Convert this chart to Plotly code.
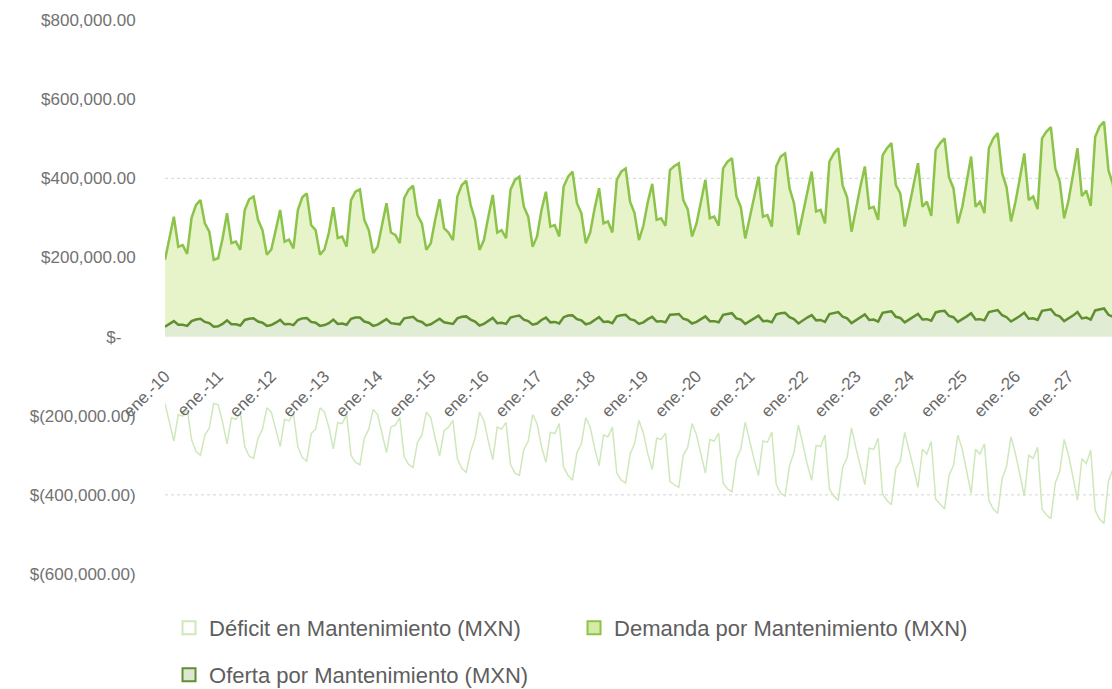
import plotly.graph_objects as go

# Serie mensual ene-2010 .. dic-2027, valores en miles de MXN
ETIQUETAS_X = ["ene.-10", "ene.-11", "ene.-12", "ene.-13", "ene.-14", "ene.-15",
               "ene.-16", "ene.-17", "ene.-18", "ene.-19", "ene.-20", "ene.-21",
               "ene.-22", "ene.-23", "ene.-24", "ene.-25", "ene.-26", "ene.-27"]

DEMANDA = [
    194, 248, 303, 227, 231, 209, 300, 333, 345, 286, 265, 194,   # 2010
    198, 248, 312, 236, 240, 219, 320, 347, 354, 295, 269, 207,   # 2011
    220, 269, 320, 240, 245, 223, 320, 352, 362, 282, 269, 207,   # 2012
    220, 263, 327, 249, 253, 227, 345, 366, 372, 295, 269, 211,   # 2013
    227, 282, 337, 263, 257, 236, 350, 371, 381, 307, 286, 219,   # 2014
    236, 295, 347, 274, 263, 244, 354, 383, 394, 333, 295, 219,   # 2015
    244, 303, 358, 263, 269, 249, 371, 396, 404, 329, 303, 227,   # 2016
    253, 320, 366, 278, 282, 253, 379, 404, 417, 337, 312, 236,   # 2017
    263, 324, 375, 286, 291, 263, 396, 417, 425, 341, 312, 244,   # 2018
    280, 340, 386, 295, 299, 280, 421, 431, 438, 345, 322, 253,   # 2019
    286, 341, 396, 299, 303, 280, 425, 442, 451, 355, 327, 248,   # 2020
    303, 358, 404, 303, 307, 278, 430, 455, 463, 375, 337, 257,   # 2021
    312, 371, 417, 316, 320, 286, 442, 463, 476, 381, 352, 265,   # 2022
    324, 379, 430, 324, 328, 295, 458, 476, 489, 383, 362, 278,   # 2023
    328, 383, 438, 328, 341, 305, 472, 489, 501, 403, 375, 286,   # 2024
    328, 392, 455, 328, 341, 312, 476, 501, 514, 413, 377, 291,   # 2025
    340, 400, 463, 345, 354, 322, 501, 518, 529, 425, 392, 299,   # 2026
    345, 409, 476, 355, 369, 330, 505, 531, 543, 420, 385, 300,   # 2027
]

OFERTA = [
    25, 32, 39, 30, 30, 27, 39, 43, 45, 37, 34, 25,
    26, 32, 41, 31, 31, 28, 42, 45, 46, 38, 35, 27,
    29, 35, 42, 31, 32, 29, 42, 46, 47, 37, 35, 27,
    29, 34, 43, 32, 33, 30, 45, 48, 48, 38, 35, 27,
    30, 37, 44, 34, 33, 31, 46, 48, 50, 40, 37, 28,
    31, 38, 45, 36, 34, 32, 46, 50, 51, 43, 38, 28,
    32, 39, 47, 34, 35, 32, 48, 51, 53, 43, 39, 30,
    33, 42, 48, 36, 37, 33, 49, 53, 54, 44, 41, 31,
    34, 42, 49, 37, 38, 34, 51, 54, 55, 44, 41, 32,
    36, 44, 50, 38, 39, 36, 55, 56, 57, 45, 42, 33,
    37, 44, 51, 39, 39, 36, 55, 57, 59, 46, 43, 32,
    39, 47, 53, 39, 40, 36, 56, 59, 60, 49, 44, 33,
    41, 48, 54, 41, 42, 37, 57, 60, 62, 50, 46, 34,
    42, 49, 56, 42, 43, 38, 60, 62, 64, 50, 47, 36,
    43, 50, 57, 43, 44, 40, 61, 64, 65, 52, 49, 37,
    43, 51, 59, 43, 44, 41, 62, 65, 67, 54, 49, 38,
    44, 52, 60, 45, 46, 42, 65, 67, 69, 55, 51, 39,
    45, 53, 62, 46, 48, 43, 66, 69, 71, 55, 50, 39,
]

DEFICIT = [
    -169, -216, -264, -197, -201, -182, -261, -290, -300, -249, -231, -169,
    -172, -216, -271, -205, -209, -191, -278, -302, -308, -257, -234, -180,
    -191, -234, -278, -209, -213, -194, -278, -306, -315, -245, -234, -180,
    -191, -229, -284, -217, -220, -197, -300, -318, -324, -257, -234, -184,
    -197, -245, -293, -229, -224, -205, -304, -323, -331, -267, -249, -191,
    -205, -257, -302, -238, -229, -212, -308, -333, -343, -290, -257, -191,
    -212, -264, -311, -229, -234, -217, -323, -345, -351, -286, -264, -197,
    -220, -278, -318, -242, -245, -220, -330, -351, -363, -293, -271, -205,
    -229, -282, -326, -249, -253, -229, -345, -363, -370, -297, -271, -212,
    -244, -296, -336, -257, -260, -244, -366, -375, -381, -300, -280, -220,
    -249, -297, -345, -260, -264, -244, -370, -385, -392, -309, -284, -216,
    -264, -311, -351, -264, -267, -242, -374, -396, -403, -326, -293, -224,
    -271, -323, -363, -275, -278, -249, -385, -403, -414, -331, -306, -231,
    -282, -330, -374, -282, -285, -257, -398, -414, -425, -333, -315, -242,
    -285, -333, -381, -285, -297, -265, -411, -425, -436, -351, -326, -249,
    -285, -341, -396, -285, -297, -271, -414, -436, -447, -359, -328, -253,
    -296, -348, -403, -300, -308, -280, -436, -451, -460, -370, -341, -260,
    -300, -356, -414, -309, -321, -287, -439, -462, -472, -365, -335, -261,
]

Y_TICKS = [800, 600, 400, 200, 0, -200, -400, -600]
Y_TEXTOS = ["$800,000.00", "$600,000.00", "$400,000.00", "$200,000.00",
            "$-\u00a0\u00a0\u00a0", "$(200,000.00)", "$(400,000.00)", "$(600,000.00)"]

NOMBRES = ["Déficit en Mantenimiento (MXN)",
           "Demanda por Mantenimiento (MXN)",
           "Oferta por Mantenimiento (MXN)"]

meses = list(range(len(DEMANDA)))
ticks_x = meses[::12][:len(ETIQUETAS_X)]

C_DEF_LINE = "#cfe8bb"
C_DEM_LINE = "#8cc34a"
C_DEM_FILL = "#e7f3c8"
C_OF_LINE = "#5f8f2e"
C_OF_FILL = "#e1ecd4"

fig = go.Figure()

fig.add_trace(go.Scatter(x=meses, y=DEFICIT, mode="lines",
                         line=dict(color=C_DEF_LINE, width=1.5),
                         showlegend=False, hoverinfo="skip"))
fig.add_trace(go.Scatter(x=meses, y=DEMANDA, mode="lines", fill="tozeroy",
                         fillcolor=C_DEM_FILL,
                         line=dict(color=C_DEM_LINE, width=2.5),
                         showlegend=False, hoverinfo="skip"))
fig.add_trace(go.Scatter(x=meses, y=OFERTA, mode="lines", fill="tozeroy",
                         fillcolor=C_OF_FILL,
                         line=dict(color=C_OF_LINE, width=2.5),
                         showlegend=False, hoverinfo="skip"))

# legend entries (square swatches)
swatches = [
    (NOMBRES[0], "#ffffff", C_DEF_LINE, "legend"),
    (NOMBRES[1], "#d6eca6", C_DEM_LINE, "legend"),
    (NOMBRES[2], "#dfe6d6", C_OF_LINE, "legend2"),
]
for nombre, relleno, borde, leyenda in swatches:
    fig.add_trace(go.Scatter(x=[None], y=[None], mode="markers", name=nombre,
                             marker=dict(symbol="square", size=13, color=relleno,
                                         line=dict(color=borde, width=2)),
                             legend=leyenda))

# dotted reference lines at +/-400,000
for yv in (400, -400):
    fig.add_shape(type="line", xref="paper", x0=0, x1=1, yref="y", y0=yv, y1=yv,
                  line=dict(color="#d4d4d4", width=1, dash="dot"), layer="below")

legend_font = dict(family="Liberation Sans, Arial, sans-serif", size=22, color="#5e5e5e")

fig.update_layout(
    width=1112, height=689,
    margin=dict(l=165, r=0, t=20, b=115, autoexpand=False),
    paper_bgcolor="white", plot_bgcolor="white",
    font=dict(family="Liberation Sans, Arial, sans-serif", color="#707070"),
    xaxis=dict(range=[0, 213.8], tickmode="array", tickvals=ticks_x,
               ticktext=ETIQUETAS_X, tickangle=-45, showgrid=False,
               zeroline=False, showline=False, automargin=False,
               ticks="outside", ticklen=22, tickcolor="rgba(0,0,0,0)",
               anchor="free", position=600 / 1400,
               tickfont=dict(size=17, color="#6a6a6a")),
    yaxis=dict(range=[-600, 800], tickmode="array", tickvals=Y_TICKS,
               ticktext=Y_TEXTOS, showgrid=False, zeroline=False, automargin=False,
               ticks="outside", ticklen=25, tickcolor="rgba(0,0,0,0)",
               tickfont=dict(size=17, color="#727272")),
    legend=dict(orientation="h", xref="container", yref="container",
                x=0.152, y=1 - 628 / 689, xanchor="left", yanchor="middle",
                entrywidth=360, font=legend_font, bgcolor="rgba(0,0,0,0)"),
    legend2=dict(orientation="h", xref="container", yref="container",
                 x=0.152, y=1 - 675 / 689, xanchor="left", yanchor="middle",
                 font=legend_font, bgcolor="rgba(0,0,0,0)"),
)

fig.write_html("out.html")
